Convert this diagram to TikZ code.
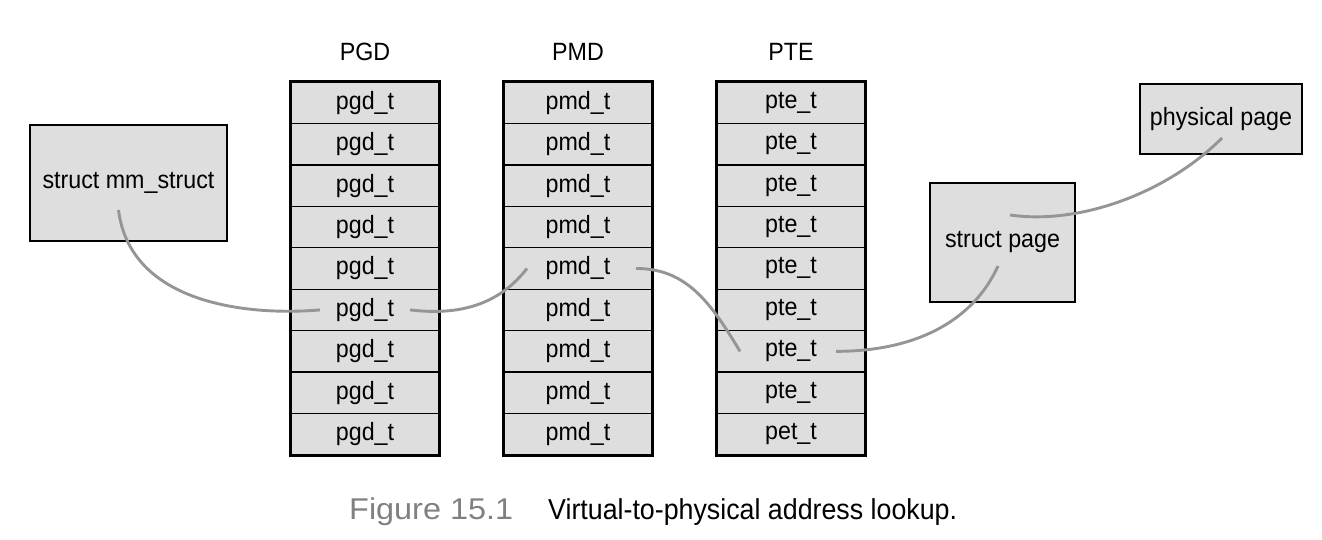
\documentclass[tikz,border=0pt]{standalone}
\usepackage{fontspec}
\setmainfont{Liberation Sans}[FakeStretch=0.93]
\newfontfamily\fignumfont{Liberation Sans}[FakeStretch=1.08]
\usetikzlibrary{positioning}
\definecolor{cellgray}{HTML}{DEDEDE}
\definecolor{linkgray}{HTML}{959595}
\definecolor{capgray}{HTML}{808080}

\begin{document}
\begin{tikzpicture}
    [
    x=1pt, y=-1pt,
    node distance=41.44pt and 213pt,
    on grid,
    every node/.style={font=\fontsize{25}{28}\selectfont},
    cell/.style={draw, fill=cellgray, line width=1.3pt, minimum width=148pt, minimum height=41.44pt, inner sep=0pt},
    table frame/.style={draw, line width=2.9pt},
    box/.style={draw, fill=cellgray, line width=2.9pt, inner sep=0pt},
    link/.style={draw=linkgray, line width=2.9pt},
    ]
    \useasboundingbox (0,0) rectangle (1322,539);

    % PGD column
    \node[cell] (pgd1) at (365,102.7) {pgd\_t};
    \node[cell, below = of pgd1] (pgd2) {pgd\_t};
    \node[cell, below = of pgd2] (pgd3) {pgd\_t};
    \node[cell, below = of pgd3] (pgd4) {pgd\_t};
    \node[cell, below = of pgd4] (pgd5) {pgd\_t};
    \node[cell, below = of pgd5] (pgd6) {pgd\_t};
    \node[cell, below = of pgd6] (pgd7) {pgd\_t};
    \node[cell, below = of pgd7] (pgd8) {pgd\_t};
    \node[cell, below = of pgd8] (pgd9) {pgd\_t};
    \node[above = 50.7pt of pgd1] (head_pgd) {PGD};

    % PMD column
    \node[cell, right = of pgd1] (pmd1) {pmd\_t};
    \node[cell, below = of pmd1] (pmd2) {pmd\_t};
    \node[cell, below = of pmd2] (pmd3) {pmd\_t};
    \node[cell, below = of pmd3] (pmd4) {pmd\_t};
    \node[cell, below = of pmd4] (pmd5) {pmd\_t};
    \node[cell, below = of pmd5] (pmd6) {pmd\_t};
    \node[cell, below = of pmd6] (pmd7) {pmd\_t};
    \node[cell, below = of pmd7] (pmd8) {pmd\_t};
    \node[cell, below = of pmd8] (pmd9) {pmd\_t};
    \node[above = 50.7pt of pmd1] (head_pmd) {PMD};

    % PTE column
    \node[cell, right = of pmd1] (pte1) {pte\_t};
    \node[cell, below = of pte1] (pte2) {pte\_t};
    \node[cell, below = of pte2] (pte3) {pte\_t};
    \node[cell, below = of pte3] (pte4) {pte\_t};
    \node[cell, below = of pte4] (pte5) {pte\_t};
    \node[cell, below = of pte5] (pte6) {pte\_t};
    \node[cell, below = of pte6] (pte7) {pte\_t};
    \node[cell, below = of pte7] (pte8) {pte\_t};
    \node[cell, below = of pte8] (pte9) {pet\_t};
    \node[above = 50.7pt of pte1] (head_pte) {PTE};

    \draw[table frame] (pgd1.north west) rectangle (pgd9.south east);
    \draw[table frame] (pmd1.north west) rectangle (pmd9.south east);
    \draw[table frame] (pte1.north west) rectangle (pte9.south east);

    % structures
    \node[box, minimum width=197pt, minimum height=116pt] (mm) at (128.5,183)
    {struct mm\_struct};
    \node[box, minimum width=145pt, minimum height=119pt] (page) at (1002.5,242.5)
    {struct page};
    \node[box, minimum width=162pt, minimum height=70pt] (phys) at (1221,119)
    {physical page};

    % lookup path
    \draw[link] ([shift={(-10,27)}]mm.center) .. controls +(12,95) and +(-70,6) .. ([xshift=-45pt]pgd6.center);
    \draw[link] ([xshift=45pt]pgd6.center) .. controls +(50,6) and +(-28,36) .. ([xshift=-51pt]pmd5.center);
    \draw[link] ([xshift=58pt]pmd5.center) .. controls +(50,0) and +(-30,-50) .. ([xshift=-51pt]pte7.center);
    \draw[link] ([xshift=45pt]pte7.center) .. controls +(80,0) and +(-25,55) .. ([shift={(-4.5,23.5)}]page.center);
    \draw[link] ([shift={(7.5,-27.5)}]page.center) .. controls +(70,10) and +(-55,55) .. ([shift={(1,19)}]phys.center);

    % caption
    \node[anchor=west, inner sep=0pt, text=capgray, font=\fignumfont\fontsize{30}{32}\selectfont] (fig_num) at (349,512)
    {Figure 15.1};
    \node[anchor=west, inner sep=0pt, font=\fontsize{28.8}{32}\selectfont] (fig_title) at (548,512)
    {Virtual-to-physical address lookup.};
\end{tikzpicture}
\end{document}
